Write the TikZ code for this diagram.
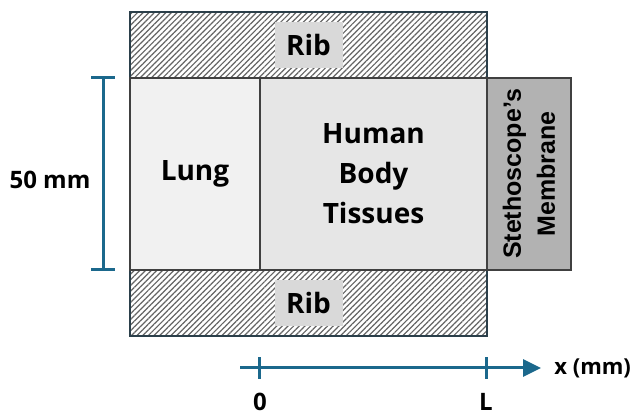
\documentclass[tikz,border=0pt]{standalone}
\usepackage{fontspec}
\setmainfont{Open Sans}
\newfontfamily\membranefont{Liberation Sans}
\usetikzlibrary{positioning,patterns.meta,arrows.meta}
\definecolor{ribedge}{RGB}{43,63,74}
\definecolor{ribhatch}{RGB}{100,100,100}
\definecolor{ribtag}{RGB}{217,217,217}
\definecolor{lungfill}{RGB}{241,241,241}
\definecolor{tissuefill}{RGB}{230,230,230}
\definecolor{membfill}{RGB}{178,178,178}
\definecolor{axisblue}{RGB}{27,104,140}

\begin{document}
\begin{tikzpicture}[
  x=0.5pt, y=0.5pt,
  rib/.style={draw=ribedge,line width=0.8pt,inner sep=0pt,outer sep=0pt,
              pattern={Lines[angle=45,distance=2pt,line width=0.6pt]},pattern color=ribhatch,
              minimum width=178.5pt,minimum height=33pt,anchor=north west},
  ribtagbox/.style={fill=ribtag,inner sep=0pt,minimum width=34pt,minimum height=23pt,
              font=\bfseries\fontsize{14}{16}\selectfont},
  layer/.style={draw=black!75,line width=0.7pt,inner sep=0pt,outer sep=0pt,
              minimum height=96pt,anchor=north west,align=center,
              font=\bfseries\fontsize{14}{20}\selectfont},
  lbl/.style={font=\bfseries\fontsize{12}{14}\selectfont,inner sep=0pt},
  bluewire/.style={draw=axisblue,line width=1.5pt}
]
  \useasboundingbox (0,0) rectangle (635,416);

  % ribs above and below
  \node[rib] (ribtop) at (130,404) {};
  \node[rib] (ribbot) at (130,146) {};
  \node[ribtagbox] (ribtoptag) at (ribtop.center) {Rib};
  \node[ribtagbox] (ribbottag) at (ribbot.center) {Rib};

  % layers
  \node[layer, fill=lungfill, minimum width=65pt] (lung) at (130,338) {Lung};
  \node[layer, fill=tissuefill, minimum width=113.5pt] (tissue) at (260,338) {Human\\Body\\Tissues};
  \node[layer, fill=membfill, minimum width=42pt] (memb) at (487,338) {};
  \node[rotate=90, align=center, inner sep=0pt,
        font=\membranefont\bfseries\fontsize{12.5}{17}\selectfont] (membtxt) at (memb.center) {Stethoscope’s\\Membrane};

  % thickness marker
  \coordinate (dimtop) at (103,338);
  \coordinate (dimbot) at (103,146);
  \draw[bluewire] (dimtop) -- (dimbot);
  \draw[bluewire] ([xshift=-6pt]dimtop) -- ([xshift=6pt]dimtop);
  \draw[bluewire] ([xshift=-6pt]dimbot) -- ([xshift=6pt]dimbot);
  \node[lbl] (dimlbl) at (50,236) {50 mm};

  % x axis
  \coordinate (axstart) at (240,48);
  \coordinate (axend) at (541,48);
  \coordinate (tick0) at (259,48);
  \coordinate (tickL) at (486,48);
  \draw[bluewire,-{Triangle[length=9pt,width=8.5pt]}] (axstart) -- (axend);
  \draw[bluewire] ([yshift=-5.5pt]tick0) -- ([yshift=5.5pt]tick0);
  \draw[bluewire] ([yshift=-5.5pt]tickL) -- ([yshift=5.5pt]tickL);
  \node[lbl, font=\bfseries\fontsize{11}{13}\selectfont, right=6.5pt of axend] (axlbl) {x (mm)};
  \node[lbl, anchor=base] (lbl0) at (260,5) {0};
  \node[lbl, anchor=base] (lblL) at (486,5) {L};
\end{tikzpicture}
\end{document}
